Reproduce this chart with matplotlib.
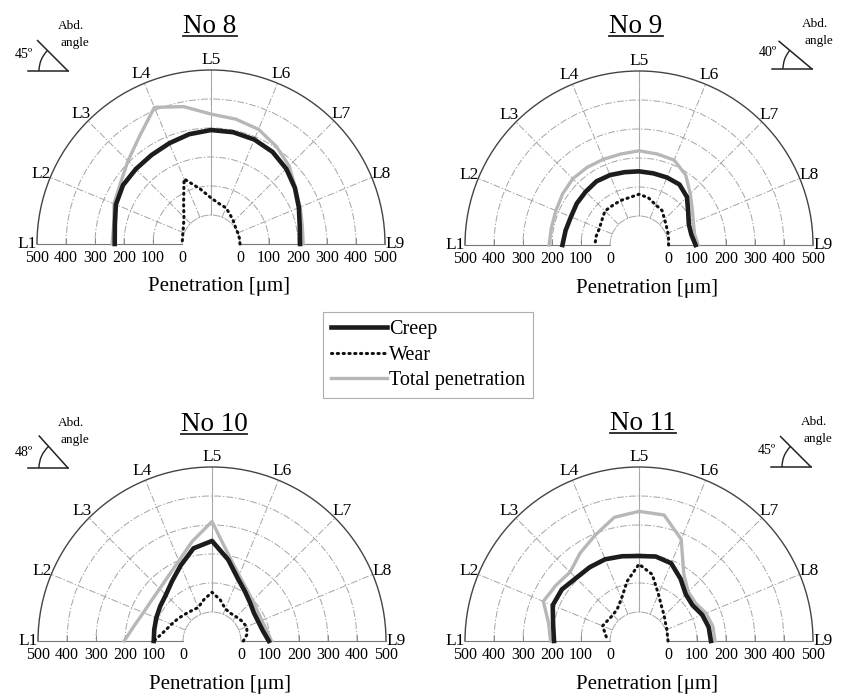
import numpy as np
import matplotlib
matplotlib.use('Agg')
import matplotlib.pyplot as plt
from matplotlib.lines import Line2D
from matplotlib.patches import Arc
import matplotlib.transforms as mtransforms

plt.rcParams['font.family'] = ['Liberation Serif', 'DejaVu Serif']

# ---------------- data ----------------
angles_deg = [0, 11.25, 22.5, 33.75, 45, 56.25, 67.5, 78.75, 90,
              101.25, 112.5, 123.75, 135, 146.25, 157.5, 168.75, 180]
direction_angles = [0, 22.5, 45, 67.5, 90, 112.5, 135, 157.5, 180]
direction_labels = ['L9', 'L8', 'L7', 'L6', 'L5', 'L4', 'L3', 'L2', 'L1']
radial_ticks = [0, 100, 200, 300, 400, 500]

titles = ['No 8', 'No 9', 'No 10', 'No 11']
abd_angles = [45, 40, 48, 45]

creep8 = [207, 212, 228, 248, 267, 282, 290, 293, 293, 286, 276, 269, 266, 265, 255, 238, 232]
wear8 = [0, 0, 0, 2, 10, 20, 35, 42, 59, 94, 143, 70, 32, 14, 5, 0, 0]
total8 = [218, 221, 233, 250, 281, 305, 328, 339, 348, 383, 410, 345, 305, 276, 262, 242, 241]

creep9 = [95, 84, 86, 104, 134, 151, 152, 152, 154, 156, 161, 164, 160, 158, 154, 158, 164]
wear9 = [2, 4, 8, 14, 25, 43, 50, 66, 75, 67, 66, 64, 66, 54, 48, 51, 52]
total9 = [104, 95, 103, 121, 150, 190, 217, 220, 225, 220, 220, 222, 223, 217, 210, 208, 210]

creep10 = [96, 79, 73, 74, 86, 105, 133, 186, 245, 226, 182, 148, 125, 115, 108, 103, 101]
wear10 = [8, 24, 29, 24, 18, 15, 20, 45, 68, 45, 25, 26, 31, 40, 51, 68, 100]
total10 = [105, 92, 86, 88, 98, 115, 145, 200, 312, 250, 199, 170, 155, 151, 156, 173, 203]

creep11 = [148, 145, 136, 122, 128, 158, 190, 197, 193, 198, 205, 206, 207, 220, 222, 202, 193]
wear11 = [0, 0, 4, 10, 23, 41, 75, 134, 165, 110, 58, 34, 27, 29, 36, 18, 8]
total11 = [162, 160, 150, 135, 140, 178, 280, 343, 347, 335, 295, 265, 236, 245, 257, 218, 205]

series = [(creep8, wear8, total8), (creep9, wear9, total9),
          (creep10, wear10, total10), (creep11, wear11, total11)]

# ---------------- layout (pixels) ----------------
W, H = 842, 699
R = 174
centres = [(211, 244), (639, 245), (212, 641), (639, 641)]
title_pos = [(210, 33), (636, 33), (214, 431), (643, 430)]
icon_vertex = [(68, 71), (812, 69), (68, 468), (811, 467)]

fig = plt.figure(figsize=(W / 100, H / 100), dpi=100)


def fx(px):
    return px / W


def fy(py):
    return 1 - py / H


grid_color = '#a4a4a4'
dashdot = (0, (7, 2, 1.5, 2))

axes = []
for i, (cx, cy) in enumerate(centres):
    # square box: the half-disc wedge is fitted to its width and centred vertically
    ax = fig.add_axes([fx(cx - R), fy(cy + 0.5 * R), 2 * R / W, 2 * R / H],
                      projection='polar')
    ax.set_thetamin(0)
    ax.set_thetamax(180)
    ax.set_rlim(0, 500)
    ax.set_rorigin(-100)
    ax.set_xticks(np.deg2rad(direction_angles))
    ax.set_xticklabels(direction_labels, fontsize=12.5)
    ax.tick_params(axis='x', pad=0, length=3, direction='in', color='#555')
    ax.set_yticks(radial_ticks[1:-1])
    ax.set_yticklabels([])
    ax.yaxis.set_tick_params(which='major', length=4, direction='in',
                             tick1On=True, tick2On=True, color='#888', width=0.7)
    ax.grid(True, color=grid_color, lw=0.7, linestyle=dashdot)
    ax.spines['polar'].set_color('#444')
    ax.spines['polar'].set_linewidth(1.0)
    ax.spines['inner'].set_color(grid_color)
    ax.spines['inner'].set_linewidth(0.7)
    ax.spines['inner'].set_linestyle(dashdot)
    for s in ('start', 'end'):
        ax.spines[s].set_color('#777')
        ax.spines[s].set_linewidth(0.8)
        ax.spines[s].set_linestyle((0, (1, 1)))
    # solid L5 spoke
    ax.plot([np.pi / 2, np.pi / 2], [0, 500], color='#b0b0b0', lw=0.8, zorder=1)

    creep, wear, total = series[i]
    th = np.deg2rad(angles_deg)
    lt, = ax.plot(th, total, color='#b7b7b7', lw=2.4, zorder=3, clip_on=False,
                  label='Total penetration')
    lc, = ax.plot(th, creep, color='#1c1c1c', lw=3.3, zorder=4, clip_on=False,
                  label='Creep')
    lw_, = ax.plot(th, wear, color='#111111', lw=2.2, linestyle=(0, (0.4, 1.5)),
                   dash_capstyle='round', zorder=5, clip_on=False, label='Wear')
    if i == 0:
        legend_handles = [lc, lw_, lt]

    # bottom radial tick labels on both sides
    trans = ax.transData + mtransforms.ScaledTranslation(0, -14 / 100, fig.dpi_scale_trans)
    for r in radial_ticks:
        ax.text(np.pi, r, str(r), transform=trans, ha='center', va='center',
                fontsize=11.5, clip_on=False)
        ax.text(0, r, str(r), transform=trans, ha='center', va='center',
                fontsize=11.5, clip_on=False)
    fig.text(fx(cx + 8), fy(cy + 43), 'Penetration [\u03bcm]', ha='center',
             va='center', fontsize=15)
    axes.append(ax)

# overlay axes in pixel coordinates for titles and icons
ov = fig.add_axes([0, 0, 1, 1], facecolor='none')
ov.set_xlim(0, W)
ov.set_ylim(H, 0)
ov.axis('off')

fig.canvas.draw()
renderer = fig.canvas.get_renderer()
for i in range(4):
    tx, ty = title_pos[i]
    t = ov.text(tx, ty, titles[i], ha='center', va='baseline', fontsize=19.5)
    bb = t.get_window_extent(renderer=renderer)
    x0, x1 = bb.x0, bb.x1
    ov.plot([x0, x1], [ty + 2.5, ty + 2.5], color='#222', lw=1.3)

    vx, vy = icon_vertex[i]
    a = abd_angles[i]
    ov.plot([vx - 40, vx], [vy, vy], color='#222', lw=1.1)
    L = 43
    ov.plot([vx, vx - L * np.cos(np.deg2rad(a))], [vy, vy - L * np.sin(np.deg2rad(a))],
            color='#222', lw=1.1)
    ov.add_patch(Arc((vx, vy), 58, 58, theta1=180, theta2=180 + a, color='#222', lw=1.0))
    ov.text(vx + 3, vy - 45, 'Abd.', ha='center', va='center', fontsize=9.5)
    ov.text(vx + 7, vy - 28, 'angle', ha='center', va='center', fontsize=9.5)
    ov.text(vx - 35, vy - 16, '%d\u00ba' % a, ha='right', va='center', fontsize=10)

leg = fig.legend(handles=legend_handles,
                 labels=['Creep', 'Wear', 'Total penetration'],
                 loc='center', bbox_to_anchor=(fx(428), fy(355)),
                 frameon=True, fancybox=False, edgecolor='#9a9a9a',
                 fontsize=14.5, handlelength=2.8, handletextpad=0.1,
                 labelspacing=0.3, borderpad=0.4, borderaxespad=0)
leg.get_frame().set_linewidth(0.8)

fig.savefig('out.png', dpi=100)
